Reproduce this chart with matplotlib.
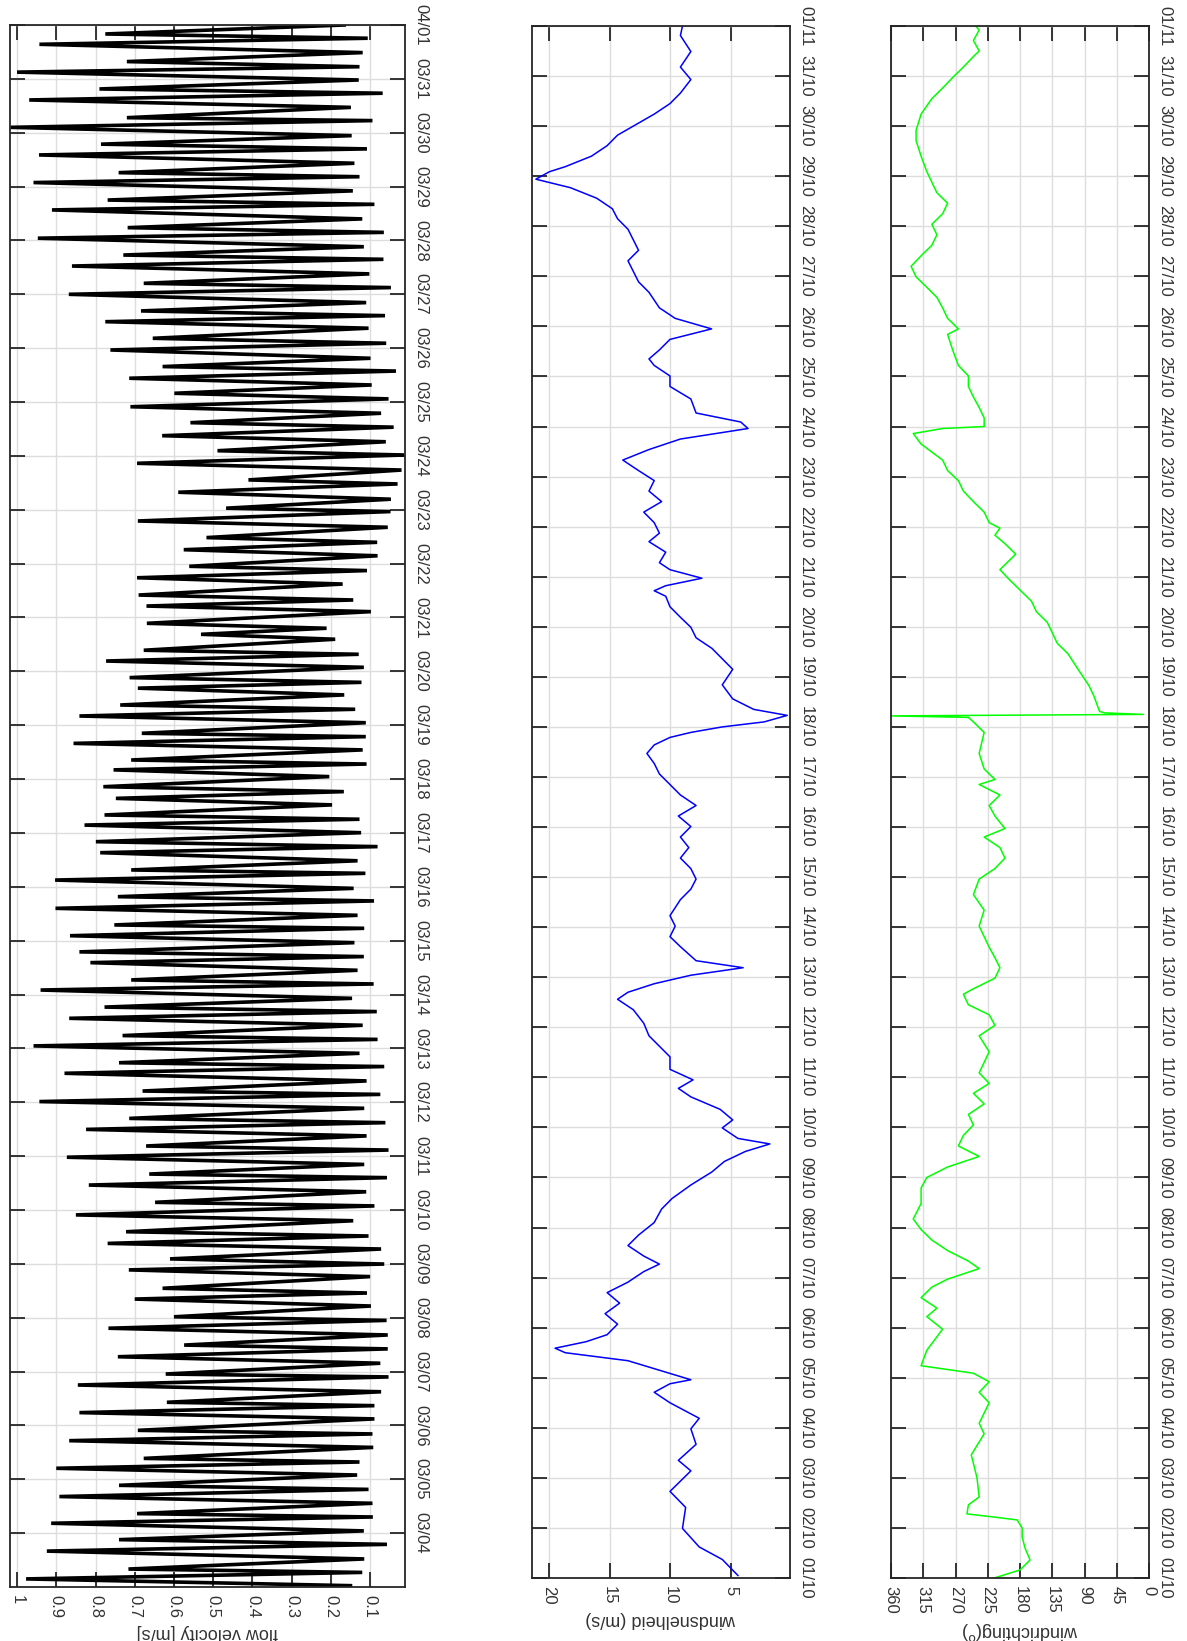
import numpy as np
import pandas as pd
import matplotlib
matplotlib.use('Agg')
import matplotlib.pyplot as plt

plt.rcParams['font.family'] = ['Liberation Sans', 'DejaVu Sans']

# --- flow velocity: hours after 03/03 00:00, alternating maxima / slack minima
flow_hours = [
    0.6, 3.6, 6.5, 8.0, 12.5, 16.0, 19.0, 21.1, 25.0, 28.4, 31.2, 32.7, 37.3, 40.3, 43.5, 45.3,
    49.9, 52.9, 55.7, 57.3, 62.2, 65.2, 68.2, 69.8, 74.9, 77.7, 80.8, 82.3, 87.0, 90.0, 93.6, 94.9,
    99.7, 102.6, 106.1, 107.8, 112.3, 115.3, 118.8, 120.4, 125.2, 128.3, 131.0, 133.1, 138.3, 141.3,
    143.9, 146.2, 150.6, 153.1, 156.4, 158.3, 163.2, 165.8, 169.8, 171.4, 176.1, 179.1, 182.4,
    184.0, 188.3, 191.5, 194.7, 196.5, 201.0, 203.9, 206.9, 208.8, 213.3, 216.3, 219.5, 221.0, 225.5,
    228.9, 231.9, 233.6, 237.8, 241.1, 244.0, 245.7, 250.3, 253.4, 256.4, 258.4, 262.3, 266.0, 268.7,
    270.5, 274.8, 278.2, 280.9, 283.0, 287.1, 290.2, 293.5, 295.0, 299.3, 302.4, 305.7, 307.6, 311.3,
    315.0, 318.0, 319.5, 323.6, 327.2, 329.9, 332.1, 336.1, 339.5, 342.1, 344.0, 348.5, 351.4, 354.4,
    356.6, 361.1, 364.1, 366.7, 368.5, 373.0, 375.9, 378.9, 380.4, 385.1, 388.1, 391.1, 393.0, 397.5,
    400.5, 403.1, 405.2, 409.8, 412.6, 415.6, 417.4, 422.3, 424.5, 427.2, 429.4, 434.6, 437.1, 439.8,
    442.0, 446.9, 449.7, 452.9, 454.8, 459.5, 462.2, 465.5, 467.6, 472.2, 475.0, 479.2, 480.7, 484.7,
    487.8, 491.5, 493.3, 497.7, 500.7, 504.4, 506.3, 510.3, 513.0, 516.8, 518.8, 523.0, 525.9,
    529.4, 531.9, 535.6, 538.6, 541.8, 543.8, 547.5, 551.2, 554.2, 556.4, 560.9, 563.8, 566.5, 568.6,
    572.3, 576.0, 579.0, 580.9, 585.1, 588.6, 591.6, 593.5, 597.2, 601.0, 603.6, 605.7, 609.6, 613.6,
    616.1, 618.0, 622.1, 625.8, 628.4, 630.2, 634.4, 638.1, 640.8, 642.9, 646.7, 650.4, 653.4, 654.7,
    659.3, 662.6, 665.6, 667.5, 671.5, 675.0, 677.4, 679.7, 683.7, 687.4, 690.1, 692.0, 696.0,
]
flow_speed = [
    0.15, 0.977, 0.12, 0.716, 0.115, 0.924, 0.057, 0.74, 0.116, 0.913, 0.093, 0.694, 0.094, 0.892, 0.104, 0.74,
    0.133, 0.9, 0.127, 0.677, 0.092, 0.867, 0.094, 0.692, 0.089, 0.841, 0.089, 0.618, 0.072, 0.845, 0.053, 0.621,
    0.074, 0.743, 0.055, 0.574, 0.055, 0.767, 0.058, 0.6, 0.098, 0.70, 0.108, 0.629, 0.10, 0.715,
    0.064, 0.61, 0.072, 0.769, 0.104, 0.722, 0.143, 0.85, 0.089, 0.648, 0.11, 0.817, 0.057,
    0.663, 0.115, 0.873, 0.053, 0.671, 0.109, 0.824, 0.061, 0.714, 0.115, 0.943, 0.074, 0.68, 0.109,
    0.879, 0.064, 0.74, 0.127, 0.958, 0.081, 0.731, 0.119, 0.867, 0.083, 0.777, 0.146, 0.94, 0.091,
    0.709, 0.132, 0.813, 0.116, 0.841, 0.14, 0.865, 0.115, 0.752, 0.132, 0.902, 0.09, 0.743, 0.142,
    0.903, 0.112, 0.709, 0.132, 0.788, 0.081, 0.799, 0.123, 0.828, 0.127, 0.777, 0.197, 0.748, 0.167,
    0.78, 0.204, 0.754, 0.109, 0.709, 0.119, 0.856, 0.111, 0.682, 0.111, 0.841, 0.138, 0.737, 0.166,
    0.692, 0.122, 0.713, 0.116, 0.773, 0.129, 0.677, 0.189, 0.531, 0.211, 0.669, 0.098, 0.67, 0.143,
    0.69, 0.17, 0.694, 0.108, 0.561, 0.081, 0.575, 0.082, 0.517, 0.055, 0.692, 0.048, 0.467, 0.047,
    0.589, 0.03, 0.41, 0.02, 0.694, 0.013, 0.489, 0.06, 0.63, 0.04, 0.558, 0.072, 0.711,
    0.053, 0.599, 0.096, 0.714, 0.034, 0.629, 0.099, 0.762, 0.059, 0.654, 0.104, 0.775, 0.062, 0.684,
    0.11, 0.868, 0.047, 0.677, 0.102, 0.86, 0.066, 0.729, 0.116, 0.947, 0.065, 0.718, 0.12, 0.911,
    0.089, 0.769, 0.144, 0.958, 0.127, 0.741, 0.14, 0.944, 0.108, 0.786, 0.147, 1.017, 0.094, 0.72,
    0.149, 0.969, 0.068, 0.79, 0.129, 1.0, 0.127, 0.72, 0.119, 0.943, 0.106, 0.775, 0.166,
]

# --- wind speed, days after 01/10 00:00
wind_days = [
    0.05, 0.37, 0.62, 0.99, 1.41, 1.73, 2.14, 2.35, 2.67, 2.98, 3.19, 3.50, 3.71, 3.88, 3.96, 4.34,
    4.50, 4.59, 4.72, 4.86, 5.07, 5.28, 5.49, 5.70, 5.91, 6.12, 6.27, 6.43, 6.64, 6.85, 7.10, 7.37,
    7.58, 7.85, 8.11, 8.32, 8.52, 8.67, 8.78, 8.99, 9.15, 9.36, 9.61, 9.78, 9.95, 10.16, 10.41, 10.62,
    10.83, 11.08, 11.35, 11.56, 11.70, 11.87, 12.04, 12.19, 12.33, 12.61, 12.81, 13.02, 13.23, 13.55,
    13.76, 13.96, 14.17, 14.38, 14.59, 14.80, 15.01, 15.22, 15.43, 15.64, 15.85, 16.06, 16.27, 16.47,
    16.64, 16.79, 16.89, 17.0, 17.1, 17.23, 17.35, 17.56, 17.84, 18.15, 18.36, 18.57, 18.78, 18.99,
    19.19, 19.40, 19.61, 19.72, 19.82, 19.97, 20.14, 20.28, 20.49, 20.70, 20.87, 21.08, 21.29, 21.50,
    21.71, 21.92, 22.12, 22.33, 22.54, 22.75, 22.96, 23.09, 23.27, 23.55, 23.80, 24.01, 24.22, 24.35,
    24.53, 24.74, 24.95, 25.16, 25.37, 25.68, 25.89, 26.10, 26.31, 26.52, 26.73, 26.94, 27.15, 27.35,
    27.56, 27.77, 27.94, 28.09, 28.19, 28.40, 28.61, 28.82, 28.94, 29.24, 29.45, 29.66, 29.93, 30.18,
    30.49, 30.81, 31.0,
]
wind_speed = [
    4.43, 5.72, 7.62, 9.0, 8.74, 10.03, 8.31, 9.34, 7.88, 8.31, 7.62, 10.03, 11.33, 10.03, 8.31, 13.49,
    18.66, 19.5, 16.94, 15.21, 14.35, 15.38, 14.18, 15.21, 13.49, 12.19, 10.9, 12.19, 13.49, 12.62, 11.33, 10.72,
    9.86, 8.31, 6.58, 5.55, 3.82, 1.8, 4.43, 5.72, 4.86, 5.89, 8.31, 9.34, 8.13, 10.03, 10.03, 10.9,
    11.76, 12.19, 13.05, 14.35, 13.49, 11.33, 8.31, 4.0, 7.88, 9.17, 10.03, 9.6, 10.03, 9.17,
    8.31, 7.88, 8.31, 9.17, 8.48, 9.17, 8.31, 9.34, 7.88, 9.17, 10.03, 10.9, 11.33, 11.93,
    11.33, 10.03, 8.31, 5.72, 2.27, 0.37, 3.13, 4.86, 5.72, 4.86, 5.72, 6.58, 7.88, 8.31,
    9.17, 10.03, 10.38, 11.33, 10.38, 7.4, 10.03, 10.9, 10.38, 11.76, 10.9, 11.33, 12.19, 10.72,
    11.76, 11.33, 12.62, 13.92, 11.76, 9.17, 3.6, 4.2, 7.88, 8.31, 10.03, 10.03, 11.33, 11.76,
    10.9, 10.03, 6.6, 9.6, 10.9, 11.76, 12.62, 13.05, 13.49, 12.62, 13.05, 13.49, 14.35, 14.78,
    16.07, 18.23, 21.08, 19.96, 18.66, 16.5, 15.21, 14.35, 13.49, 11.33, 10.03, 9.17, 8.31, 9.17,
    8.31, 9.17, 9.0,
]

# --- wind direction, days after 01/10 00:00
dir_days = [
    0.0, 0.16, 0.36, 0.6, 0.82, 1.0, 1.16, 1.22, 1.28, 1.46, 1.62, 2.0, 2.46, 2.88, 3.09, 3.5,
    3.71, 3.92, 4.09, 4.24, 4.55, 4.97, 5.22, 5.39, 5.6, 5.81, 5.97, 6.18, 6.33, 6.54, 6.75, 6.96,
    7.17, 7.48, 7.79, 8.0, 8.21, 8.42, 8.63, 8.84, 9.05, 9.26, 9.47, 9.68, 9.88, 10.09, 10.3, 10.51,
    10.83, 11.04, 11.25, 11.45, 11.66, 11.77, 11.98, 12.19, 12.39, 12.6, 12.81, 13.02, 13.34, 13.65,
    13.96, 14.17, 14.38, 14.59, 14.8, 14.97, 15.22, 15.43, 15.64, 15.85, 15.95, 16.16, 16.47, 16.89,
    17.1, 17.19, 17.22, 17.25, 17.28, 17.31, 17.62, 17.83, 18.15, 18.46, 18.67, 18.88, 19.09, 19.3,
    19.51, 19.72, 19.93, 20.14, 20.24, 20.45, 20.66, 20.83, 20.97, 21.08, 21.29, 21.5, 21.71, 21.92,
    22.12, 22.33, 22.65, 22.86, 22.96, 23.0, 23.17, 23.38, 23.59, 23.8, 24.01, 24.22, 24.53, 24.84,
    24.95, 25.16, 25.37, 25.58, 25.78, 25.99, 26.2, 26.41, 26.62, 26.83, 27.04, 27.25, 27.46, 27.67,
    27.88, 28.09, 28.4, 28.71, 28.92, 29.24, 29.55, 29.76, 29.97, 30.18, 30.39, 30.5, 30.71, 30.92,
    31.0,
]
dir_deg = [
    216, 180, 166, 173, 177, 177, 184, 218, 254, 252, 237, 240, 248, 230, 237, 223,
    237, 223, 245, 318, 310, 288, 310, 296, 318, 303, 281, 237, 252, 281, 303, 318,
    329, 318, 318, 310, 281, 237, 266, 259, 245, 252, 230, 245, 223, 237, 230, 223,
    237, 215, 223, 252, 259, 245, 215, 208, 215, 223, 230, 237, 230, 245,
    237, 215, 201, 208, 230, 201, 215, 223, 208, 237, 215, 230, 237, 230,
    245, 252, 360, 8, 62, 69, 77, 84, 99, 113, 128, 135, 142, 157,
    164, 179, 194, 208, 201, 186, 201, 215, 208, 223, 230, 245, 259, 266,
    281, 288, 318, 329, 288, 230, 230, 237, 245, 252, 252, 266, 274, 281,
    266, 281, 288, 296, 310, 325, 332, 318, 303, 296, 303, 288, 281, 296,
    303, 310, 318, 325, 325, 318, 303, 288, 274, 259, 245, 237, 245, 237,
    242,
]

flow_ticks = np.arange(0.1, 1.01, 0.1)
flow_ticklabels = ['0.1', '0.2', '0.3', '0.4', '0.5', '0.6', '0.7', '0.8', '0.9', '1']
wind_ticks = [5, 10, 15, 20]
dir_ticks = [0, 45, 90, 135, 180, 225, 270, 315, 360]

march_labels = pd.date_range('2000-03-04', '2000-04-01').strftime('%m/%d').tolist()
oct_labels = pd.date_range('2000-10-01', '2000-11-01').strftime('%d/%m').tolist()

W, H = 1187, 1641
fig = plt.figure(figsize=(W / 100, H / 100), dpi=100)
txt = '#333333'


def box(x0, y0, x1, y1):
    return [x0 / W, 1 - y1 / H, (x1 - x0) / W, (y1 - y0) / H]


def style(ax, xlim, xticks, xlabels, ylim, yticks, ylabels, xlabel):
    ax.set_xlim(xlim)
    ax.set_ylim(ylim)
    ax.set_xticks(xticks)
    ax.set_xticklabels(xlabels, rotation=270, va='top', ha='center')
    ax.set_yticks(yticks)
    ax.set_yticklabels(ylabels, rotation=270, va='center', ha='left')
    ax.tick_params(axis='both', direction='in', length=11, width=1.3, color='#262626',
                   labelsize=12, labelcolor=txt, top=True, right=True,
                   labelleft=False, labelright=True, pad=6)
    ax.grid(True, color='#dddddd', lw=1.0)
    ax.set_axisbelow(True)
    for s in ax.spines.values():
        s.set_color('#262626')
        s.set_linewidth(1.3)
    ax.set_xlabel(xlabel, rotation=180, fontsize=13, color=txt, labelpad=4)


ax1 = fig.add_axes(box(10, 25, 405, 1587))
ax1.plot(flow_speed, np.array(flow_hours) / 24.0, color='black', lw=2.6, solid_joinstyle='miter')
style(ax1, (1.018, 0.011), flow_ticks, flow_ticklabels, (0, 29), range(1, 30), march_labels,
      'flow velocity [m/s]')

ax2 = fig.add_axes(box(532, 26, 790, 1578))
ax2.plot(wind_speed, wind_days, color='#0000ff', lw=1.1)
style(ax2, (21.4, 0.14), wind_ticks, [str(v) for v in wind_ticks], (0, 31), range(0, 32), oct_labels,
      'windsnelheid (m/s)')

ax3 = fig.add_axes(box(891, 26, 1149, 1578))
ax3.plot(dir_deg, dir_days, color='#00ff00', lw=1.1)
style(ax3, (360, 0), dir_ticks, [str(v) for v in dir_ticks], (0, 31), range(0, 32), oct_labels,
      'windrichting($^{\\mathrm{o}}$)')

fig.savefig('out.png', dpi=100)
